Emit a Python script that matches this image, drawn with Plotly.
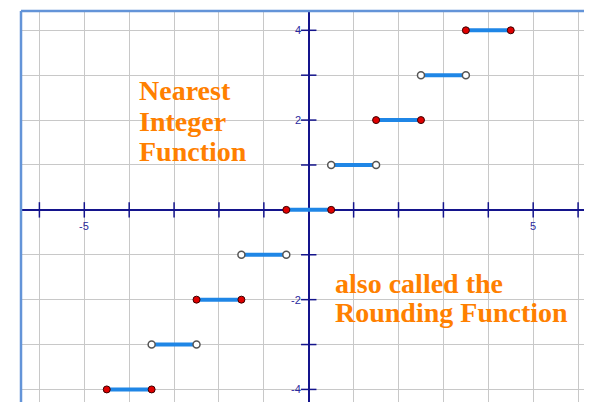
import plotly.graph_objects as go

# Data: nearest-integer (rounding) function steps
step_levels = [-4, -3, -2, -1, 0, 1, 2, 3, 4]
seg_start = [-4.5, -3.5, -2.5, -1.5, -0.5, 0.5, 1.5, 2.5, 3.5]
seg_end = [-3.5, -2.5, -1.5, -0.5, 0.5, 1.5, 2.5, 3.5, 4.5]
endpoint_filled = [True, False, True, False, True, False, True, False, True]

x_tick_vals = [-6, -5, -4, -3, -2, -1, 1, 2, 3, 4, 5, 6]
y_tick_vals = [-4, -3, -2, -1, 1, 2, 3, 4]
x_label_vals = [-5, 5]
y_label_vals = [-4, -2, 2, 4]

title_lines = ["Nearest", "Integer", "Function"]
title_y = [2.67, 1.96, 1.29]
subtitle_lines = ["also called the", "Rounding Function"]
subtitle_y = [-1.63, -2.29]

AXIS = "#14148c"
LABEL = "#2a2a9e"
ORANGE = "#FF8000"

fig = go.Figure()

# segments
sx, sy = [], []
for a, b, v in zip(seg_start, seg_end, step_levels):
    sx += [a, b, None]
    sy += [v, v, None]
fig.add_trace(go.Scatter(x=sx, y=sy, mode="lines",
                         line=dict(color="#1f86e6", width=4),
                         hoverinfo="skip", showlegend=False))

# axis tick marks
fig.add_trace(go.Scatter(x=x_tick_vals, y=[0] * len(x_tick_vals), mode="markers",
                         marker=dict(symbol="line-ns", size=11,
                                     line=dict(color=AXIS, width=1.5)),
                         hoverinfo="skip", showlegend=False))
fig.add_trace(go.Scatter(x=[0] * len(y_tick_vals), y=y_tick_vals, mode="markers",
                         marker=dict(symbol="line-ew", size=11,
                                     line=dict(color=AXIS, width=1.5)),
                         hoverinfo="skip", showlegend=False))

# endpoints
fx, fy, ox, oy = [], [], [], []
for a, b, v, f in zip(seg_start, seg_end, step_levels, endpoint_filled):
    if f:
        fx += [a, b]; fy += [v, v]
    else:
        ox += [a, b]; oy += [v, v]
fig.add_trace(go.Scatter(x=fx, y=fy, mode="markers",
                         marker=dict(size=7, color="#e00000",
                                     line=dict(color="#3a0000", width=1)),
                         hoverinfo="skip", showlegend=False))
fig.add_trace(go.Scatter(x=ox, y=oy, mode="markers",
                         marker=dict(size=7, color="white",
                                     line=dict(color="#555555", width=1.5)),
                         hoverinfo="skip", showlegend=False))

annotations = []
for v in x_label_vals:
    annotations.append(dict(x=v, y=0, xref="x", yref="y", text=str(v),
                            showarrow=False, xanchor="center", yanchor="top",
                            yshift=-8, font=dict(family="Liberation Sans, Arial",
                                                 size=11, color=LABEL)))
for v in y_label_vals:
    annotations.append(dict(x=0, y=v, xref="x", yref="y", text=str(v),
                            showarrow=False, xanchor="right", yanchor="middle",
                            xshift=-6, font=dict(family="Liberation Sans, Arial",
                                                 size=11, color=LABEL)))
for t, yv in zip(title_lines, title_y):
    annotations.append(dict(x=-3.83, y=yv, xref="x", yref="y", text="<b>%s</b>" % t,
                            showarrow=False, xanchor="left", yanchor="middle",
                            font=dict(family="Liberation Serif, Times New Roman",
                                      size=28, color=ORANGE)))
for t, yv in zip(subtitle_lines, subtitle_y):
    annotations.append(dict(x=0.53, y=yv, xref="x", yref="y", text="<b>%s</b>" % t,
                            showarrow=False, xanchor="left", yanchor="middle",
                            font=dict(family="Liberation Serif, Times New Roman",
                                      size=28, color=ORANGE)))

fig.update_layout(
    width=584, height=394,
    margin=dict(l=13, r=0, t=3, b=0),
    paper_bgcolor="white", plot_bgcolor="white",
    xaxis=dict(range=[-6.41, 6.31], dtick=1, tick0=0, showgrid=True,
               gridcolor="#c8c8c8", gridwidth=1.2, zeroline=True,
               zerolinecolor=AXIS, zerolinewidth=1.8, showticklabels=False,
               ticks="", fixedrange=True),
    yaxis=dict(range=[-4.28, 4.43], dtick=1, tick0=0, showgrid=True,
               gridcolor="#c8c8c8", gridwidth=1.2, zeroline=True,
               zerolinecolor=AXIS, zerolinewidth=1.8, showticklabels=False,
               ticks="", fixedrange=True),
    annotations=annotations,
    shapes=[
        dict(type="line", xref="paper", yref="paper", x0=0, x1=0, y0=0, y1=1,
             line=dict(color="#6394d8", width=2.5), layer="above"),
        dict(type="line", xref="paper", yref="paper", x0=0, x1=1, y0=1, y1=1,
             line=dict(color="#6394d8", width=2.5), layer="above"),
    ],
    showlegend=False,
)

fig.write_html("out.html")
